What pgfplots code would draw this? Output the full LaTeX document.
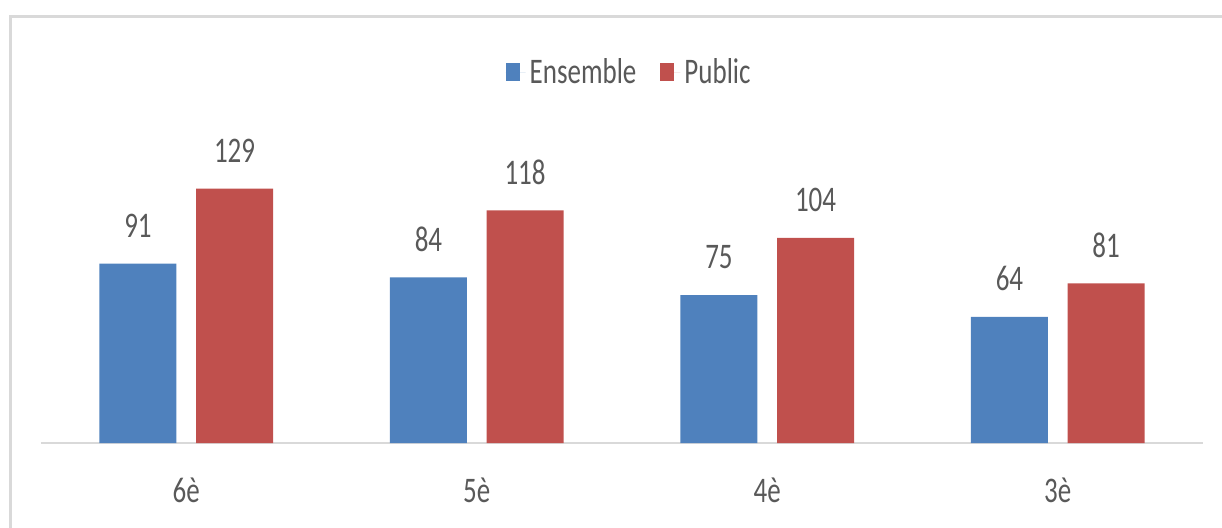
\documentclass[border=0pt]{standalone}
\usepackage{pgfplots}
\pgfplotsset{compat=1.18}
\usepackage{fontspec}
\setmainfont{Carlito}[FakeStretch=0.75]
\definecolor{blu}{HTML}{4F81BD}
\definecolor{rd}{HTML}{C0504D}
\definecolor{txt}{HTML}{595959}
\definecolor{frm}{HTML}{D9D9D9}
\newcommand{\lblfont}{\fontsize{18pt}{20pt}\selectfont}
\begin{document}
\begin{tikzpicture}
\useasboundingbox (0,0) rectangle (611pt,263.5pt);
\begin{scope}
\clip (0,0) rectangle (611pt,263.5pt);
\draw[frm, line width=1.5pt] (5pt,-20pt) rectangle (640pt,255.5pt);
\end{scope}
\begin{axis}[
  at={(20.5pt,42pt)}, anchor=south west, scale only axis,
  width=581pt, height=138pt,
  xmin=-0.5, xmax=3.5, ymin=0, ymax=140,
  ybar, bar width=38.5pt,
  clip=false,
  axis x line*=bottom, axis y line=none,
  x axis line style={frm, line width=0.8pt, -},
  xtick={0,1,2,3}, xticklabels={6è,5è,4è,3è},
  major tick length=0pt, ytick=\empty,
  /pgf/number format/assume math mode=true,
  xticklabel style={font=\lblfont, text=txt, anchor=center, yshift=-23.5pt},
  nodes near coords,
  every node near coord/.append style={font=\lblfont, text=txt, anchor=center, yshift=19pt},
  legend style={at={(0.507,1.344)}, anchor=center, draw=none, legend columns=2,
    font=\lblfont, text=txt,
    /tikz/every even column/.append style={column sep=10pt}},
  legend image code/.code={\path (0pt,0pt) -- (10pt,0pt); \draw[#1,draw=none] (0pt,-4.5pt) rectangle (7pt,4.5pt);},
]
\addplot[fill=blu, draw=none, bar shift=-24.15pt] coordinates {(0,91) (1,84) (2,75) (3,64)};
\addplot[fill=rd, draw=none, bar shift=24.15pt] coordinates {(0,129) (1,118) (2,104) (3,81)};
\legend{Ensemble,Public}
\end{axis}
\end{tikzpicture}
\end{document}
